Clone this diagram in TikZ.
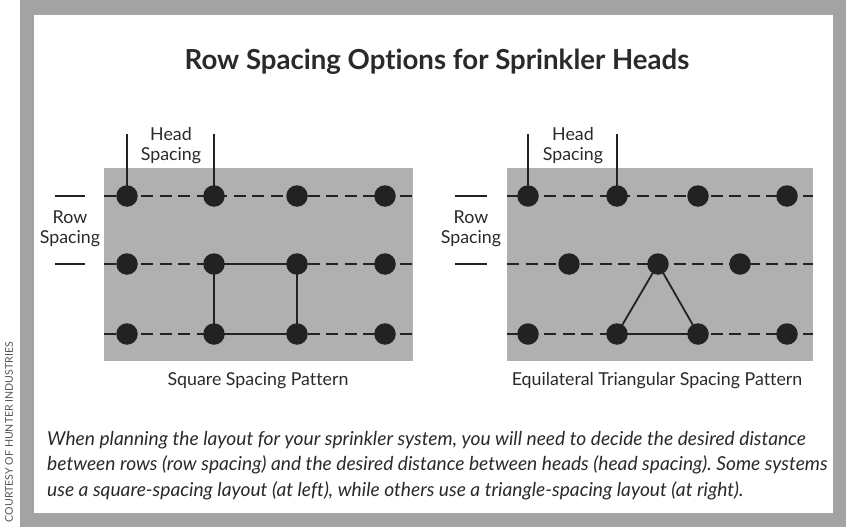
\documentclass[tikz,border=0pt]{standalone}
\usepackage{fontspec}
\setmainfont{Lato}[Ligatures=NoCommon]
\pgfdeclarelayer{base}
\pgfdeclarelayer{back}
\pgfdeclarelayer{background}
\pgfsetlayers{base,back,background,main}
\definecolor{framegray}{HTML}{A3A3A3}
\definecolor{panelgray}{HTML}{B0B0B0}
\definecolor{ink}{HTML}{222222}
\definecolor{txt}{HTML}{2A2A2A}
\tikzset{
  head/.style={circle,fill=ink,minimum size=21.5pt,inner sep=0pt},
  panel/.style={fill=panelgray,draw=none,inner sep=0pt,anchor=north west},
  rowline/.style={line width=1.8pt,ink,dash pattern=on 12pt off 6.5pt},
  link/.style={line width=1.8pt,ink},
  marker/.style={line width=1.3pt,ink},
  lbl/.style={font=\fontsize{17.8}{20}\selectfont,text=txt,align=center,inner sep=0pt},
}
\begin{document}
\begin{tikzpicture}[x=1pt,y=-1pt]
\useasboundingbox (0,0) rectangle (849,530);
% frame
\begin{pgfonlayer}{base}
\fill[framegray] (20,0) rectangle (846,527);
\fill[white] (34,15) rectangle (833,513);
\end{pgfonlayer}
\node[rotate=90,font=\fontsize{10.6}{11}\selectfont,text=txt!80] (credit) at (9,432) {COURTESY OF HUNTER INDUSTRIES};
% title
\node[font=\fontsize{27.6}{32}\selectfont\bfseries,text=txt] (title) at (437,62) {Row Spacing Options for Sprinkler Heads};

% ---------- left panel ----------
\begin{pgfonlayer}{back}
\node[panel,minimum width=309pt,minimum height=193pt] (Lrect) at (104,168) {};
\end{pgfonlayer}
\foreach \c/\x in {1/127,2/214,3/297,4/385}{
  \foreach \r/\y in {1/196,2/264,3/334}{
    \node[head] (L\r\c) at (\x,\y) {};
  }
}
\begin{pgfonlayer}{background}
\foreach \r in {1,2,3}{
  \draw[rowline] (Lrect.west |- L\r1) -- (Lrect.east |- L\r1);
}
\draw[link] (L22.center) -- (L23.center);
\draw[link] (L32.center) -- (L33.center);
\draw[link] (L22.center) -- (L32.center);
\draw[link] (L23.center) -- (L33.center);
\coordinate (LhA) at (127,134);
\coordinate (LhB) at (214,134);
\draw[marker] (LhA) -- (L11.center);
\draw[marker] (LhB) -- (L12.center);
\end{pgfonlayer}
\node[lbl] (Lhead) at (171,146) {Head\\Spacing};
\node[lbl] (Lrow) at (70,229) {Row\\Spacing};
\draw[marker] (55,196) -- (85,196);
\draw[marker] (55,264) -- (85,264);
\node[lbl] (Lcap) at (258,381) {Square Spacing Pattern};

% ---------- right panel ----------
\begin{pgfonlayer}{back}
\node[panel,minimum width=306pt,minimum height=193pt] (Rrect) at (507,168) {};
\end{pgfonlayer}
\foreach \c/\x in {1/528,2/617,3/698,4/787}{
  \node[head] (R1\c) at (\x,196) {};
  \node[head] (R3\c) at (\x,334) {};
}
\foreach \c/\x in {1/569,2/658,3/740}{
  \node[head] (R2\c) at (\x,264) {};
}
\begin{pgfonlayer}{background}
\foreach \r in {1,2,3}{
  \draw[rowline] (Rrect.west |- R\r1) -- (Rrect.east |- R\r1);
}
\draw[link] (R22.center) -- (R32.center) -- (R33.center) -- cycle;
\coordinate (RhA) at (528,134);
\coordinate (RhB) at (617,134);
\draw[marker] (RhA) -- (R11.center);
\draw[marker] (RhB) -- (R12.center);
\end{pgfonlayer}
\node[lbl] (Rhead) at (573,146) {Head\\Spacing};
\node[lbl] (Rrow) at (471,229) {Row\\Spacing};
\draw[marker] (455,196) -- (487,196);
\draw[marker] (455,264) -- (487,264);
\node[lbl] (Rcap) at (657,381) {Equilateral Triangular Spacing Pattern};

% ---------- caption ----------
\node[anchor=north west,align=left,inner sep=0pt,text=txt,font=\fontsize{19.2}{25.5}\selectfont\itshape\frenchspacing] (body) at (47,431)
{When planning the layout for your sprinkler system, you will need to decide the desired distance\\
between rows (row spacing) and the desired distance between heads (head spacing). Some systems\\
use a square-spacing layout (at left), while others use a triangle-spacing layout (at right).};
\end{tikzpicture}
\end{document}
